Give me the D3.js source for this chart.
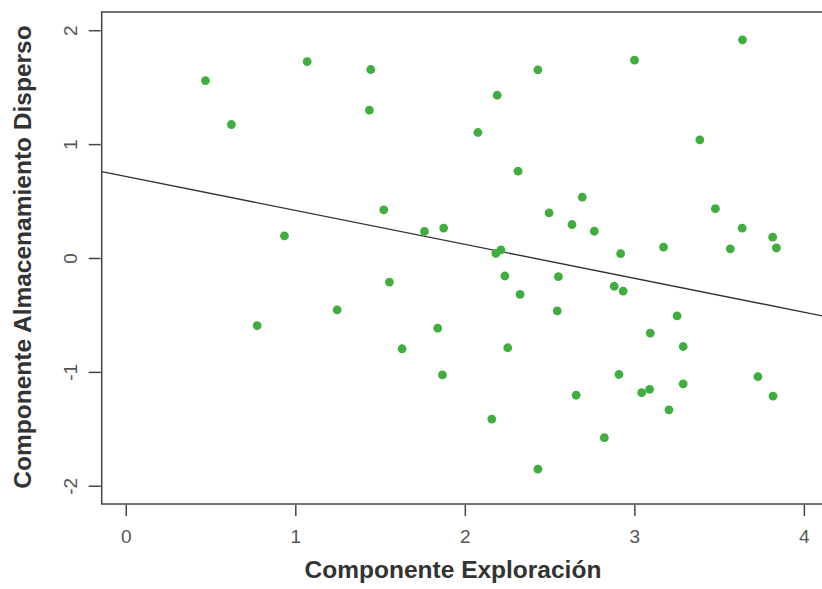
<!DOCTYPE html>
<html>
<head>
<meta charset="utf-8">
<script src="https://cdn.jsdelivr.net/npm/d3@7"></script>
<style>
  body { margin: 0; background: #fff; }
  svg { display: block; font-family: "Liberation Sans", Arial, sans-serif; }
</style>
</head>
<body>
<svg id="chart"></svg>
<script>
/*
  Componente Exploración vs Componente Almacenamiento Disperso
*/
// data
var exploracion = [0.470, 0.623, 1.070, 1.445, 1.437, 1.522, 0.936, 1.555, 0.775, 1.247,
  1.630, 1.762, 1.875, 1.840, 1.868, 3.638, 3.001, 2.431, 2.191, 2.077,
  3.386, 2.314, 2.693, 2.497, 3.478, 2.632, 2.764, 3.636, 3.816, 3.838,
  3.566, 3.172, 2.919, 2.183, 2.213, 2.236, 2.552, 2.881, 2.934, 2.326,
  2.545, 3.252, 3.094, 3.288, 2.253, 2.909, 2.657, 3.043, 3.090, 3.288,
  3.729, 3.818, 3.204, 2.159, 2.823, 2.431];
var almacenamiento = [1.558, 1.172, 1.725, 1.655, 1.298, 0.423, 0.195, -0.211, -0.593, -0.455,
  -0.797, 0.233, 0.263, -0.615, -1.027, 1.916, 1.737, 1.652, 1.429, 1.102,
  1.038, 0.762, 0.534, 0.397, 0.433, 0.294, 0.235, 0.262, 0.183, 0.088,
  0.081, 0.095, 0.038, 0.040, 0.072, -0.158, -0.164, -0.248, -0.290, -0.320,
  -0.465, -0.509, -0.660, -0.777, -0.788, -1.023, -1.205, -1.183, -1.153, -1.106,
  -1.042, -1.212, -1.333, -1.414, -1.578, -1.854];
var xTicks = [0, 1, 2, 3, 4];
var yTicks = [-2, -1, 0, 1, 2];
// fitted line (abline)
var intercepto = 0.716,
    pendiente = -0.298;

var xTitle = "Componente Exploración",
    yTitle = "Componente Almacenamiento Disperso";

//Canvas setting
var svg = d3.select("#chart");
svg.width = 822;
svg.height = 589;
svg.attr("width", svg.width).attr("height", svg.height);

var box = {left: 101.7, right: 831, top: 12, bottom: 504};

var green = "#3fae3f",
    axisgrey = "#444",
    labelgrey = "#555";

// R prints a plain hyphen for negatives
var rformat = function(d) { return String(d); };

// X and Y scale setting
var x = d3.scaleLinear().domain([-0.142, 4.16]).range([box.left, box.right]);
var y = d3.scaleLinear().domain([-2.16, 2.16]).range([box.bottom, box.top]);

var data = exploracion.map(function(d, i) { return {x: d, y: almacenamiento[i]}; });

// plot box
svg.append("rect")
   .attr("x", box.left).attr("y", box.top)
   .attr("width", box.right - box.left).attr("height", box.bottom - box.top)
   .attr("fill", "none")
   .attr("stroke", axisgrey)
   .attr("stroke-width", 1.5);

// axes (R style: ticks outside, labels below / rotated on left)
var xAxis = svg.append("g")
   .attr("transform", "translate(0," + (box.bottom + 1) + ")")
   .call(d3.axisBottom(x).tickValues(xTicks).tickSize(11).tickPadding(14).tickFormat(rformat));
xAxis.select(".domain").remove();
xAxis.selectAll("line").attr("stroke", axisgrey).attr("stroke-width", 1.5);
xAxis.selectAll("text").attr("fill", labelgrey).style("font-size", "19px");

var yAxis = svg.append("g")
   .attr("transform", "translate(" + (box.left - 1) + ",0)")
   .call(d3.axisLeft(y).tickValues(yTicks).tickSize(12).tickFormat(rformat));
yAxis.select(".domain").remove();
yAxis.selectAll("line").attr("stroke", axisgrey).attr("stroke-width", 1.5);
yAxis.selectAll("text")
   .attr("fill", labelgrey)
   .style("font-size", "19px")
   .attr("x", null).attr("dy", null)
   .attr("text-anchor", "middle")
   .attr("transform", "translate(-24,0) rotate(-90)");

// regression line, clipped to the plot box
svg.append("clipPath").attr("id", "plotclip")
   .append("rect")
   .attr("x", box.left).attr("y", box.top)
   .attr("width", box.right - box.left).attr("height", box.bottom - box.top);

var x0 = x.domain()[0], x1 = x.domain()[1];
svg.append("line")
   .attr("clip-path", "url(#plotclip)")
   .attr("x1", x(x0)).attr("y1", y(intercepto + pendiente * x0))
   .attr("x2", x(x1)).attr("y2", y(intercepto + pendiente * x1))
   .attr("stroke", "#333")
   .attr("stroke-width", 1.4);

// points
svg.selectAll(".punto")
   .data(data)
   .enter().append("circle")
   .attr("class", "punto")
   .attr("cx", function(d) { return x(d.x); })
   .attr("cy", function(d) { return y(d.y); })
   .attr("r", 4.4)
   .style("fill", green);

// titles
svg.append("text")
   .attr("x", 453).attr("y", 578)
   .attr("text-anchor", "middle")
   .style("font-size", "24.5px").style("font-weight", "bold")
   .attr("fill", "#333")
   .text(xTitle);

svg.append("text")
   .attr("transform", "translate(31,257) rotate(-90)")
   .attr("text-anchor", "middle")
   .style("font-size", "24.5px").style("font-weight", "bold")
   .attr("fill", "#333")
   .text(yTitle);
</script>
</body>
</html>
